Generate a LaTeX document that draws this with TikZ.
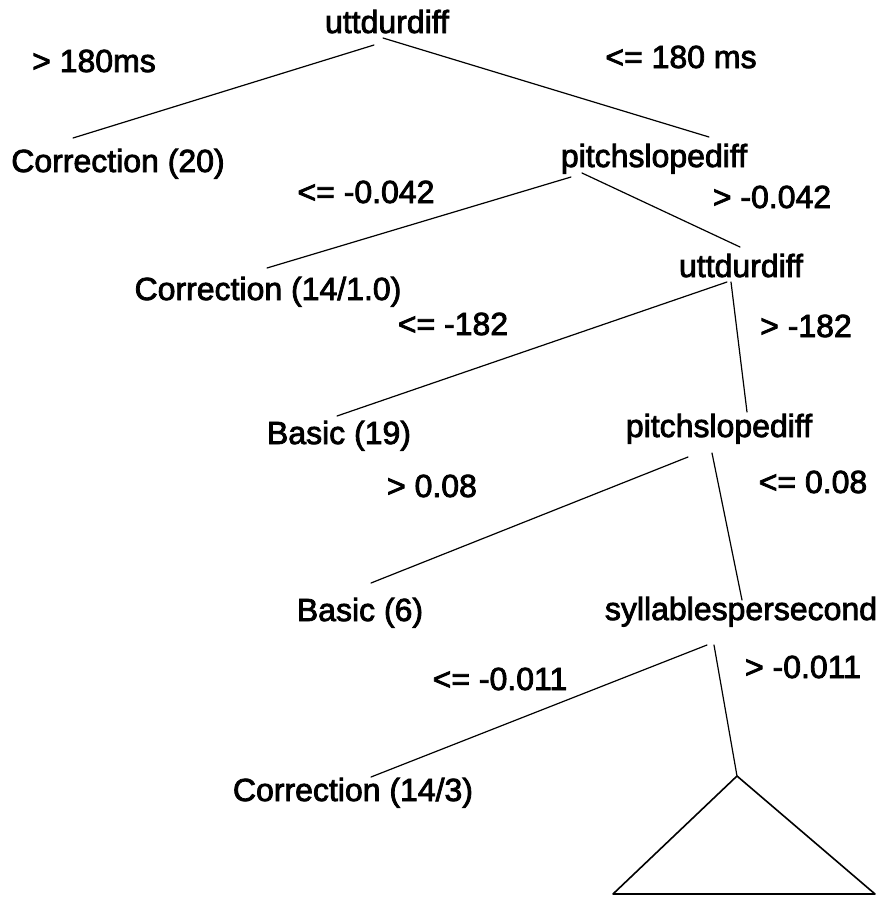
\documentclass[tikz,border=0pt]{standalone}
\usepackage{fontspec}
\setmainfont[BoldFont={Liberation Sans}, BoldFeatures={FakeBold=2.5}]{Liberation Sans}
\begin{document}
\begin{tikzpicture}[x=1pt,y=-1pt,
  every node/.style={inner sep=0pt,outer sep=0pt,anchor=base,
    font=\fontsize{32}{38}\selectfont\bfseries},
  split/.style={},
  leaf/.style={},
  cond/.style={},
  branch/.style={line width=1.2pt,line cap=round},
  subtree/.style={line width=1.6pt,line join=round}]
\useasboundingbox (0,0) rectangle (878,898);

% decision nodes
\node[split] (root) at (387,33) {uttdurdiff};
\node[split] (ps1)  at (654,167) {pitchslopediff};
\node[split] (ud2)  at (741,277) {uttdurdiff};
\node[split] (ps2)  at (719,437) {pitchslopediff};
\node[split] (syl)  at (741,620) {syllablespersecond};

% leaves
\node[leaf] (c20)  at (118,172) {Correction (20)};
\node[leaf] (c141) at (268,300) {Correction (14/1.0)};
\node[leaf] (b19)  at (339,444) {Basic (19)};
\node[leaf] (b6)   at (360,621) {Basic (6)};
\node[leaf] (c143) at (353,801) {Correction (14/3)};

% branch conditions
\node[cond] (l1a) at (94,72)   {> 180ms};
\node[cond] (l1b) at (681,68)  {<= 180 ms};
\node[cond] (l2a) at (366,203) {<= -0.042};
\node[cond] (l2b) at (772,208) {> -0.042};
\node[cond] (l3a) at (453,335) {<= -182};
\node[cond] (l3b) at (806,337) {> -182};
\node[cond] (l4a) at (432,497) {> 0.08};
\node[cond] (l4b) at (813,493) {<= 0.08};
\node[cond] (l5a) at (500,690) {<= -0.011};
\node[cond] (l5b) at (803,678) {> -0.011};

% attachment points of the branches
\coordinate (root-l) at (374,45);
\coordinate (root-r) at (383,38);
\coordinate (c20-t)  at (73,138);
\coordinate (ps1-t)  at (709,137);
\coordinate (ps1-l)  at (571,177);
\coordinate (ps1-r)  at (582,173);
\coordinate (c141-t) at (267,268);
\coordinate (ud2-t)  at (740,247);
\coordinate (ud2-l)  at (727,282);
\coordinate (ud2-r)  at (731,282);
\coordinate (b19-t)  at (337,416);
\coordinate (ps2-t)  at (747,412);
\coordinate (ps2-l)  at (688,457);
\coordinate (ps2-r)  at (712,453);
\coordinate (b6-t)   at (371,583);
\coordinate (syl-t)  at (742,600);
\coordinate (syl-l)  at (707,645);
\coordinate (syl-r)  at (714,645);
\coordinate (c143-t) at (371,777);

% collapsed subtree
\coordinate (tri-top) at (737,776);
\coordinate (tri-bl)  at (613,894);
\coordinate (tri-br)  at (875,894);

% branches
\draw[branch] (root-l) -- (c20-t);
\draw[branch] (root-r) -- (ps1-t);
\draw[branch] (ps1-l) -- (c141-t);
\draw[branch] (ps1-r) -- (ud2-t);
\draw[branch] (ud2-l) -- (b19-t);
\draw[branch] (ud2-r) -- (ps2-t);
\draw[branch] (ps2-l) -- (b6-t);
\draw[branch] (ps2-r) -- (syl-t);
\draw[branch] (syl-l) -- (c143-t);
\draw[branch] (syl-r) -- (tri-top);
\draw[subtree] (tri-top) -- (tri-bl) -- (tri-br) -- cycle;
\end{tikzpicture}
\end{document}
